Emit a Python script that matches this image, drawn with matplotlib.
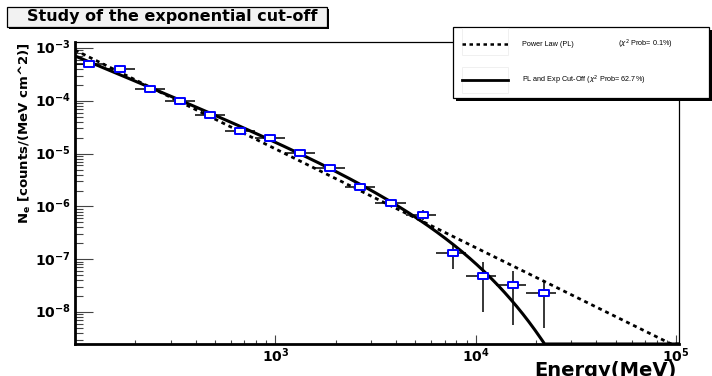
import numpy as np
import matplotlib
matplotlib.use("Agg")
import matplotlib.pyplot as plt
from matplotlib.patches import Rectangle
from matplotlib.lines import Line2D
from matplotlib.path import Path
import matplotlib.ticker as mticker

# measured points (energy bins in MeV, flux)
e_lo = [100, 141, 200, 282, 398, 562, 794, 1122, 1585, 2239, 3162, 4467, 6310, 8913, 12590, 17780]
e_hi = [141, 200, 282, 398, 562, 794, 1122, 1585, 2239, 3162, 4467, 6310, 8913, 12590, 17780, 25120]
energy = [118, 167, 236, 335, 473, 668, 944, 1334, 1884, 2661, 3758, 5433, 7674, 10840, 15310, 21870]
flux = [5.0e-4, 4.06e-4, 1.69e-4, 1.0e-4, 5.4e-5, 2.7e-5, 1.95e-5, 1.01e-5, 5.4e-6, 2.36e-6,
        1.17e-6, 6.8e-7, 1.33e-7, 4.9e-8, 3.3e-8, 2.32e-8]
flux_lo = [4.6e-4, 3.8e-4, 1.6e-4, 0.95e-4, 5.1e-5, 2.55e-5, 1.85e-5, 0.95e-5, 5.0e-6, 2.2e-6,
           1.08e-6, 5.6e-7, 6.5e-8, 1.01e-8, 5.7e-9, 4.9e-9]
flux_hi = [5.4e-4, 4.3e-4, 1.8e-4, 1.05e-4, 5.7e-5, 2.85e-5, 2.05e-5, 1.07e-5, 5.8e-6, 2.5e-6,
           1.26e-6, 8.7e-7, 1.86e-7, 8.97e-8, 5.98e-8, 4.04e-8]

# fit results
pl_norm, pl_index = 10**-3.04, 1.87
co_norm, co_index, co_cut = 10**-3.15, 1.562, 5320.0

xmin, xmax = 100, 1.035e5
ymin, ymax = 2.48e-9, 1.30e-3
xticks = [1e3, 1e4, 1e5]
xticklabels = [r'$\mathbf{10^{3}}$', r'$\mathbf{10^{4}}$', r'$\mathbf{10^{5}}$']
yticks = [1e-8, 1e-7, 1e-6, 1e-5, 1e-4, 1e-3]
yticklabels = [r'$\mathbf{10^{-8}}$', r'$\mathbf{10^{-7}}$', r'$\mathbf{10^{-6}}$',
               r'$\mathbf{10^{-5}}$', r'$\mathbf{10^{-4}}$', r'$\mathbf{10^{-3}}$']

W, H = 712, 376
fig = plt.figure(figsize=(W / 100, H / 100), dpi=100)


def fx(px):
    return px / W


def fy(py):
    return 1 - py / H


ax = fig.add_axes([fx(75), fy(344), fx(604), 302 / H])
ax.set_xscale('log')
ax.set_yscale('log')
ax.set_xlim(xmin, xmax)
ax.set_ylim(ymin, ymax)

# fitted functions
E = np.logspace(2, np.log10(xmax), 500)
pl = pl_norm * (E / 100) ** -pl_index
co = co_norm * (E / 100) ** -co_index * np.exp(-(E - 100) / co_cut)
ax.plot(E, np.maximum(pl, ymin), color='black', lw=2.0, ls=(0, (1.4, 1.4)), zorder=2)
ax.plot(E, np.maximum(co, ymin), color='black', lw=2.2, zorder=2)

# data
energy = np.array(energy)
flux = np.array(flux)
xerr = [energy - np.array(e_lo), np.array(e_hi) - energy]
yerr = [flux - np.array(flux_lo), np.array(flux_hi) - flux]
ax.errorbar(energy, flux, xerr=xerr, yerr=yerr, fmt='none', ecolor='black', elinewidth=1.1,
            capsize=0, zorder=3)
rect = Path([(-1, -0.7), (1, -0.7), (1, 0.7), (-1, 0.7), (-1, -0.7)],
            [Path.MOVETO, Path.LINETO, Path.LINETO, Path.LINETO, Path.CLOSEPOLY])
ax.plot(energy, flux, ls='none', marker=rect, ms=7, mfc='white', mec='#0000ff', mew=1.4, zorder=4)

# axes styling
for s in ['left', 'bottom']:
    ax.spines[s].set_linewidth(2)
for s in ['top', 'right']:
    ax.spines[s].set_linewidth(0.9)
ax.set_xticks(xticks)
ax.set_xticklabels(xticklabels)
ax.set_yticks(yticks)
ax.set_yticklabels(yticklabels)
ax.xaxis.set_minor_locator(mticker.LogLocator(base=10, subs=np.arange(2, 10)))
ax.yaxis.set_minor_locator(mticker.LogLocator(base=10, subs=np.arange(2, 10), numticks=20))
ax.xaxis.set_minor_formatter(mticker.NullFormatter())
ax.yaxis.set_minor_formatter(mticker.NullFormatter())
ax.tick_params(which='both', direction='in', top=False, right=False, color='#444444', width=0.8)
ax.tick_params(axis='x', which='major', length=6.5, pad=2, labelsize=10)
ax.tick_params(axis='x', which='minor', length=3.2)
ax.tick_params(axis='y', which='major', length=13, pad=3, labelsize=10)
ax.tick_params(axis='y', which='minor', length=5.8)
for lab in ax.get_yticklabels():
    lab.set_verticalalignment('center')

# axis titles
fig.text(fx(25), fy(42), r'N$_\mathbf{e}$ [counts/(MeV cm^2)]', rotation=90, ha='center', va='top',
         fontsize=9.5, fontweight='bold')
fig.text(fx(677), fy(361), 'Energy(MeV)', ha='right', va='top', fontsize=14, fontweight='bold')

# title box
fig.add_artist(Rectangle((fx(9), fy(29)), fx(320), 20 / H, transform=fig.transFigure,
                         facecolor='black', edgecolor='none', zorder=5))
fig.add_artist(Rectangle((fx(7), fy(27)), fx(320), 20 / H, transform=fig.transFigure,
                         facecolor='#f2f2f2', edgecolor='black', lw=0.9, zorder=6))
fig.text(fx(172), fy(17), 'Study of the exponential cut-off', ha='center', va='center',
         fontsize=11.5, fontweight='bold', zorder=7)

# legend box
fig.add_artist(Rectangle((fx(456), fy(101)), fx(260), 71 / H, transform=fig.transFigure,
                         facecolor='black', edgecolor='none', zorder=5))
fig.add_artist(Rectangle((fx(453), fy(98)), fx(256), 71 / H, transform=fig.transFigure,
                         facecolor='white', edgecolor='black', lw=0.9, zorder=6))
for yy in [41.5, 80]:
    fig.add_artist(Rectangle((fx(462), fy(yy + 13)), fx(46), 26 / H, transform=fig.transFigure,
                             facecolor='none', edgecolor='#eeeeee', lw=0.6, zorder=7))
fig.add_artist(Line2D([fx(462), fx(508)], [fy(44), fy(44)], transform=fig.transFigure,
                      color='black', lw=1.8, ls=(0, (1.4, 1.4)), zorder=8))
fig.add_artist(Line2D([fx(462), fx(508)], [fy(80), fy(80)], transform=fig.transFigure,
                      color='black', lw=2.0, zorder=8))
leg_font = dict(family='Liberation Sans', fontsize=5.2, va='center', ha='left', zorder=8,
                math_fontfamily='dejavusans')
fig.text(fx(522), fy(44), 'Power Law (PL)', **leg_font)
fig.text(fx(618), fy(44), r'($\chi^{2}$ Prob= 0.1%)', **leg_font)
fig.text(fx(522), fy(80), r'PL and Exp Cut-Off ($\chi^{2}$ Prob= 62.7%)', **leg_font)

fig.savefig('out.png', dpi=100)
